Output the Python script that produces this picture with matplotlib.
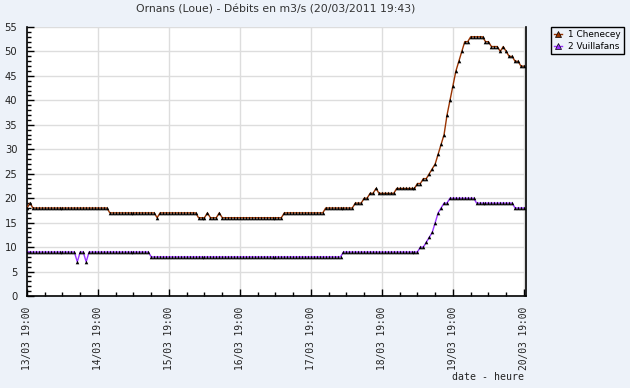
import matplotlib
matplotlib.use("Agg")
import matplotlib.pyplot as plt
from matplotlib.ticker import MultipleLocator
from matplotlib.lines import Line2D

# Hourly discharge (m3/s) from 13/03 19:00 to 20/03 19:00
chenecey = [
    18, 19, 18, 18, 18, 18, 18, 18, 18, 18, 18, 18, 18, 18, 18, 18, 18, 18, 18, 18, 18, 18, 18, 18,
    18, 18, 18, 18, 17, 17, 17, 17, 17, 17, 17, 17, 17, 17, 17, 17, 17, 17, 17, 17, 16, 17, 17, 17,
    17, 17, 17, 17, 17, 17, 17, 17, 17, 17, 16, 16, 16, 17, 16, 16, 16, 17, 16, 16, 16, 16, 16, 16,
    16, 16, 16, 16, 16, 16, 16, 16, 16, 16, 16, 16, 16, 16, 16, 17, 17, 17, 17, 17, 17, 17, 17, 17,
    17, 17, 17, 17, 17, 18, 18, 18, 18, 18, 18, 18, 18, 18, 18, 19, 19, 19, 20, 20, 21, 21, 22, 21,
    21, 21, 21, 21, 21, 22, 22, 22, 22, 22, 22, 22, 23, 23, 24, 24, 25, 26, 27, 29, 31, 33, 37, 40,
    43, 46, 48, 50, 52, 52, 53, 53, 53, 53, 53, 52, 52, 51, 51, 51, 50, 51, 50, 49, 49, 48, 48, 47,
    47,
]
vuillafans = [
    9, 9, 9, 9, 9, 9, 9, 9, 9, 9, 9, 9, 9, 9, 9, 9, 9, 7, 9, 9, 7, 9, 9, 9,
    9, 9, 9, 9, 9, 9, 9, 9, 9, 9, 9, 9, 9, 9, 9, 9, 9, 9, 8, 8, 8, 8, 8, 8,
    8, 8, 8, 8, 8, 8, 8, 8, 8, 8, 8, 8, 8, 8, 8, 8, 8, 8, 8, 8, 8, 8, 8, 8,
    8, 8, 8, 8, 8, 8, 8, 8, 8, 8, 8, 8, 8, 8, 8, 8, 8, 8, 8, 8, 8, 8, 8, 8,
    8, 8, 8, 8, 8, 8, 8, 8, 8, 8, 8, 9, 9, 9, 9, 9, 9, 9, 9, 9, 9, 9, 9, 9,
    9, 9, 9, 9, 9, 9, 9, 9, 9, 9, 9, 9, 9, 10, 10, 11, 12, 13, 15, 17, 18, 19, 19, 20,
    20, 20, 20, 20, 20, 20, 20, 20, 19, 19, 19, 19, 19, 19, 19, 19, 19, 19, 19, 19, 19, 18, 18, 18,
    18,
]
tick_labels = ["13/03 19:00", "14/03 19:00", "15/03 19:00", "16/03 19:00",
               "17/03 19:00", "18/03 19:00", "19/03 19:00", "20/03 19:00"]
series_names = ["1 Chenecey", "2 Vuillafans"]

BG = "#edf2f9"
BROWN = "#993300"
PURPLE = "#9933ff"

W, H = 630, 388
fig = plt.figure(figsize=(W / 100, H / 100), dpi=100, facecolor=BG)
ax = fig.add_axes([27 / W, (H - 296) / H, (526 - 27) / W, (296 - 27) / H])
ax.set_facecolor("white")

hours = list(range(len(chenecey)))
for vals, col in ((chenecey, BROWN), (vuillafans, PURPLE)):
    ax.plot(hours, vals, color=col, lw=1.0, zorder=3)
    ax.plot(hours, vals, ls="none", marker="^", ms=2.6, mew=0, color="black", zorder=4)

ax.set_xlim(0, 168.7)
ax.set_ylim(0, 55)
ax.set_xticks(range(0, 169, 24))
ax.set_xticklabels(tick_labels, rotation=90, family="DejaVu Sans Mono", fontsize=6.9, color="#222222")
ax.xaxis.set_minor_locator(MultipleLocator(6))
ax.yaxis.set_major_locator(MultipleLocator(5))
ax.yaxis.set_minor_locator(MultipleLocator(1))
ax.tick_params(axis="y", which="major", direction="in", length=5, width=1, pad=7, labelsize=7.2, labelcolor="#222222")
ax.tick_params(axis="y", which="minor", direction="in", length=3, width=1)
ax.tick_params(axis="x", which="major", direction="in", length=5, width=1, pad=7.5)
ax.tick_params(axis="x", which="minor", direction="in", length=3, width=1)
ax.grid(True, which="major", color="#dddddd", lw=1)
ax.set_axisbelow(True)
for s in ("left", "bottom", "right"):
    ax.spines[s].set_color("black")
    ax.spines[s].set_linewidth(1.2)
ax.spines["top"].set_visible(False)

fig.text(276 / W, 1 - 9 / H, "Ornans (Loue) - Débits en m3/s (20/03/2011 19:43)",
         ha="center", va="center", fontsize=7.8, color="#333333")
fig.text(524 / W, 1 - 377 / H, "date - heure", ha="right", va="center",
         family="DejaVu Sans Mono", fontsize=7.1, color="#222222")

handles = [Line2D([], [], color=c, marker="^", ms=4, mec="black", mew=0.5, lw=1)
           for c in (BROWN, PURPLE)]
leg = fig.legend(handles, series_names, loc="upper left", bbox_to_anchor=(551 / W, 1 - 27 / H),
                 frameon=True, fancybox=False, edgecolor="black", facecolor=BG, framealpha=1,
                 fontsize=6.4, handlelength=0.9, handletextpad=0.7, borderpad=0.35,
                 labelspacing=0.3, borderaxespad=0)
leg.get_frame().set_linewidth(1)

fig.savefig("out.png", dpi=100, facecolor=BG)
